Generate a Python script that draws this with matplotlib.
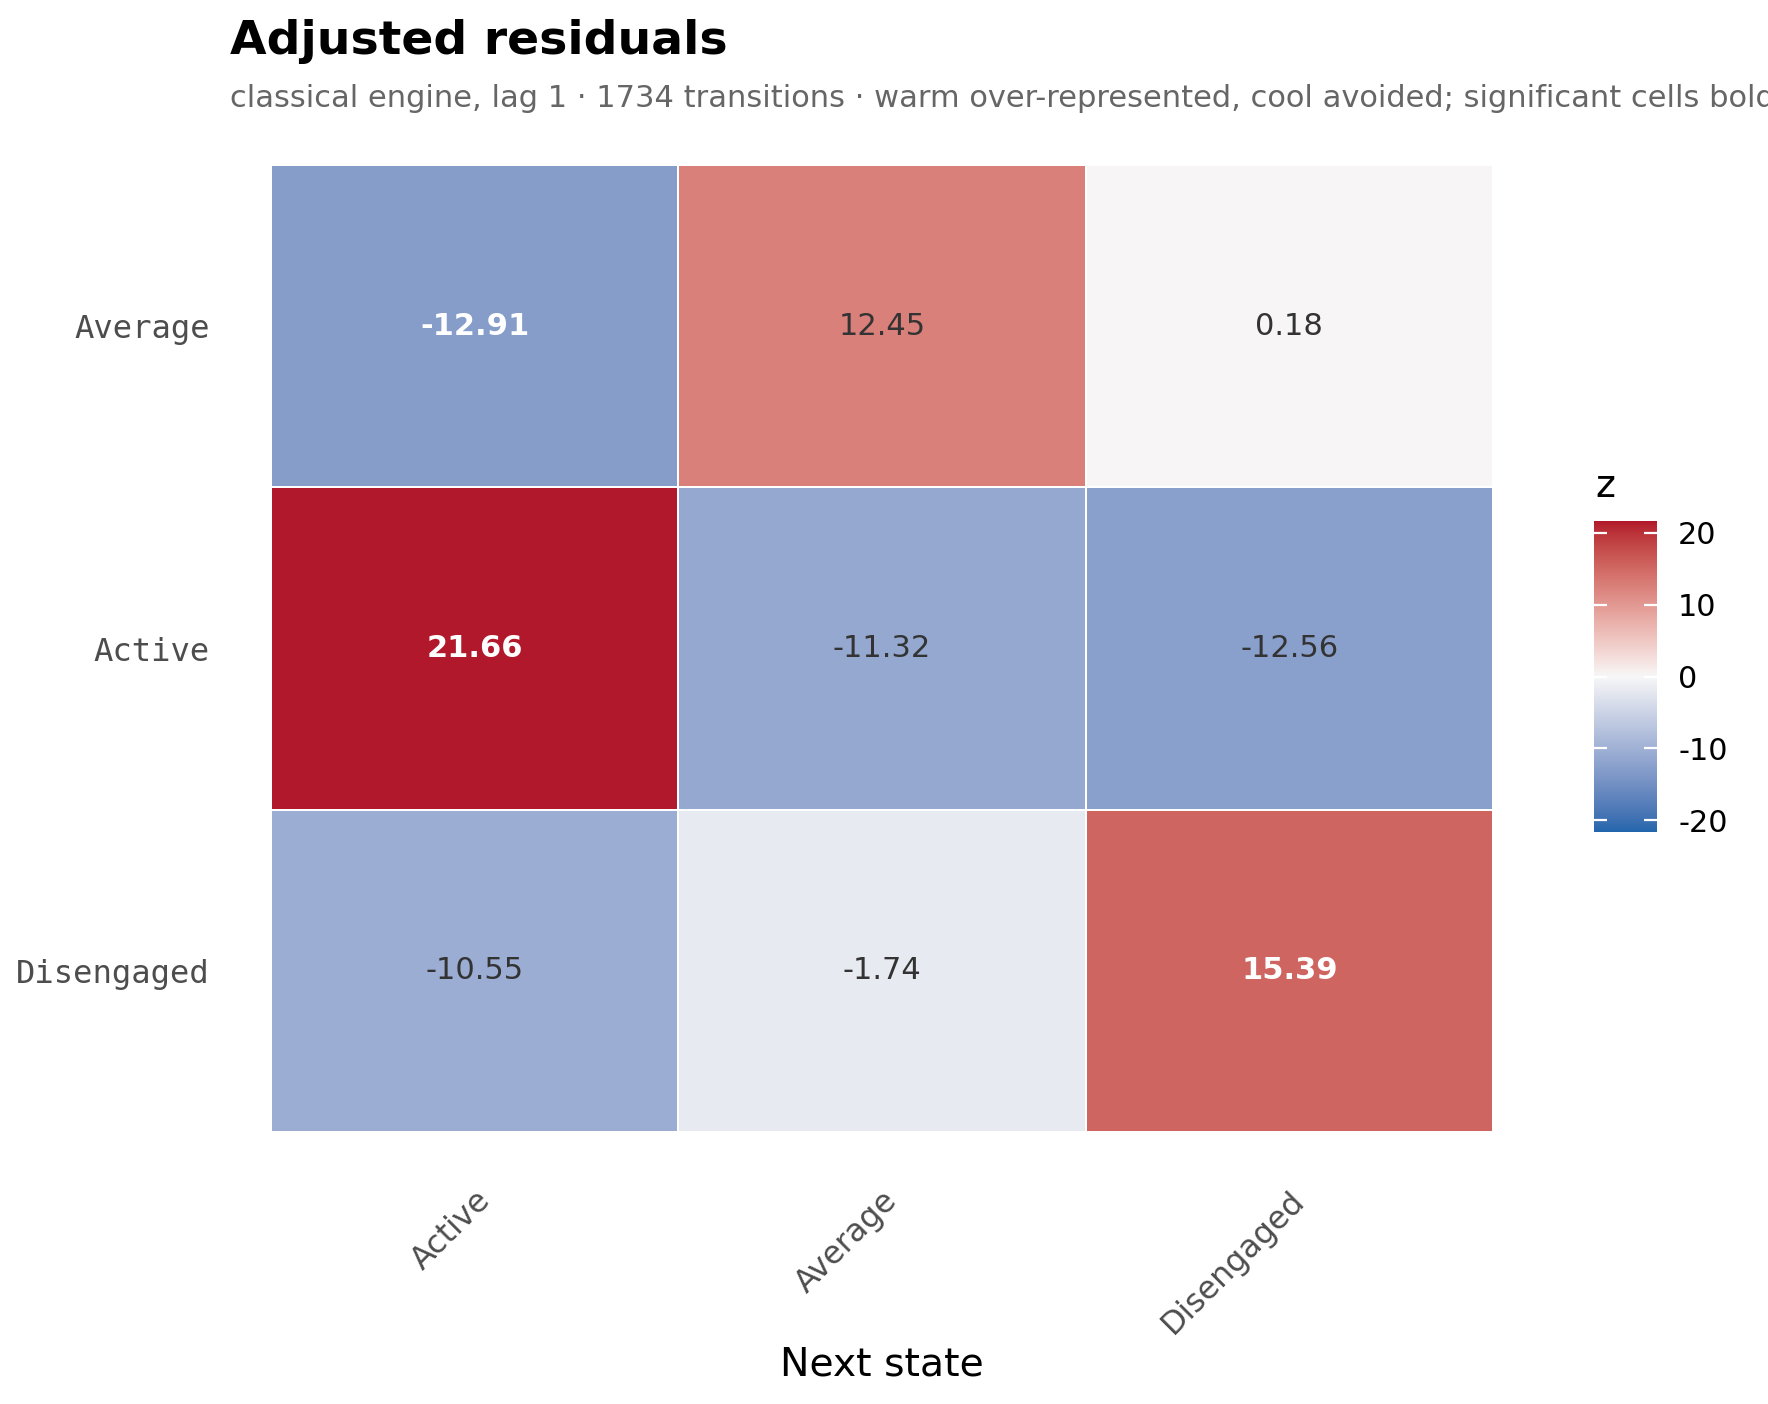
import numpy as np
import matplotlib
matplotlib.use("Agg")
import matplotlib.pyplot as plt
from matplotlib.colors import ListedColormap, Normalize

# ---- data ----
row_labels = ["Average", "Active", "Disengaged"]
col_labels = ["Active", "Average", "Disengaged"]
z_values = [
    [-12.91, 12.45, 0.18],
    [21.66, -11.32, -12.56],
    [-10.55, -1.74, 15.39],
]
significant = [
    [True, False, False],
    [True, False, False],
    [False, False, True],
]
cbar_ticks = [-20, -10, 0, 10, 20]

title = "Adjusted residuals"
subtitle = ("classical engine, lag 1 \u00b7 1734 transitions \u00b7 warm over-represented, "
            "cool avoided; significant cells bold")


# ---- Lab-interpolated diverging palette (low / mid / high) ----
def _srgb_to_lab(rgb):
    rgb = np.asarray(rgb, float)
    lin = np.where(rgb <= 0.04045, rgb / 12.92, ((rgb + 0.055) / 1.055) ** 2.4)
    M = np.array([[0.4124564, 0.3575761, 0.1804375],
                  [0.2126729, 0.7151522, 0.0721750],
                  [0.0193339, 0.1191920, 0.9503041]])
    xyz = lin @ M.T
    white = np.array([0.95047, 1.0, 1.08883])
    t = xyz / white
    f = np.where(t > (6 / 29) ** 3, np.cbrt(t), t / (3 * (6 / 29) ** 2) + 4 / 29)
    L = 116 * f[..., 1] - 16
    a = 500 * (f[..., 0] - f[..., 1])
    b = 200 * (f[..., 1] - f[..., 2])
    return np.stack([L, a, b], -1)


def _lab_to_srgb(lab):
    lab = np.asarray(lab, float)
    fy = (lab[..., 0] + 16) / 116
    fx = fy + lab[..., 1] / 500
    fz = fy - lab[..., 2] / 200
    f = np.stack([fx, fy, fz], -1)
    t = np.where(f > 6 / 29, f ** 3, 3 * (6 / 29) ** 2 * (f - 4 / 29))
    white = np.array([0.95047, 1.0, 1.08883])
    xyz = t * white
    Minv = np.array([[3.2404542, -1.5371385, -0.4985314],
                     [-0.9692660, 1.8760108, 0.0415560],
                     [0.0556434, -0.2040259, 1.0572252]])
    lin = xyz @ Minv.T
    lin = np.clip(lin, 0, 1)
    rgb = np.where(lin <= 0.0031308, 12.92 * lin, 1.055 * lin ** (1 / 2.4) - 0.055)
    return np.clip(rgb, 0, 1)


def _hex(h):
    h = h.lstrip("#")
    return [int(h[i:i + 2], 16) / 255 for i in (0, 2, 4)]


low, mid, high = _srgb_to_lab(_hex("#2166AC")), _srgb_to_lab(_hex("#F7F7F7")), _srgb_to_lab(_hex("#B2182B"))
tt = np.linspace(0, 1, 512)
labs = []
for t in tt:
    if t < 0.5:
        f = t / 0.5
        labs.append(low * (1 - f) + mid * f)
    else:
        f = (t - 0.5) / 0.5
        labs.append(mid * (1 - f) + high * f)
cmap = ListedColormap(_lab_to_srgb(np.array(labs)))

Z = np.array(z_values)
lim = np.abs(Z).max()
norm = Normalize(-lim, lim)

# ---- figure ----
fig = plt.figure(figsize=(8.84, 7.02), dpi=200)
ax = fig.add_axes([0.1533, 0.1937, 0.8445 - 0.1533, 0.8825 - 0.1937])

mesh = ax.pcolormesh(np.arange(len(col_labels) + 1), np.arange(len(row_labels) + 1), Z,
                     cmap=cmap, norm=norm, edgecolors="white", linewidth=0.7)
ax.set_xlim(0, len(col_labels))
ax.set_ylim(len(row_labels), 0)

for i in range(len(row_labels)):
    for j in range(len(col_labels)):
        sig = significant[i][j]
        ax.text(j + 0.5, i + 0.5, f"{Z[i, j]:.2f}", ha="center", va="center",
                fontsize=11.0, color="white" if sig else "#333333",
                fontweight="bold" if sig else "normal", family="DejaVu Sans")

ax.set_xticks(np.arange(len(col_labels)) + 0.5)
ax.set_xticklabels(col_labels, rotation=45, ha="right", rotation_mode="anchor",
                   fontsize=11.4, color="#4d4d4d")
ax.set_yticks(np.arange(len(row_labels)) + 0.5)
ax.set_yticklabels(row_labels, fontsize=11.6, color="#4d4d4d", family="DejaVu Sans Mono")
ax.tick_params(axis="both", length=0)
ax.tick_params(axis="y", pad=22)
ax.tick_params(axis="x", pad=19)
for s in ax.spines.values():
    s.set_visible(False)

fig.text(0.4989, 1 - 1375 / 1404, "Next state", ha="center", va="baseline", fontsize=14.2, color="black")

# colorbar
cax = fig.add_axes([1594 / 1768, 1 - 832 / 1404, 63 / 1768, 311 / 1404])
cb = fig.colorbar(mesh, cax=cax, ticks=cbar_ticks)
cb.outline.set_visible(False)
cax.tick_params(left=True, right=True, direction="in", color="white", length=4.6, width=0.8,
                labelsize=10.9, pad=7.6, labelcolor="black")
cax.set_yticklabels([str(t) for t in cbar_ticks])
fig.text(1595 / 1768, 1 - 497 / 1404, "z", ha="left", va="baseline", fontsize=13.6, color="black")

fig.text(230 / 1768, 1 - 54 / 1404, title, ha="left", va="baseline", fontsize=17.0,
         fontweight="bold", color="black")
fig.text(230 / 1768, 1 - 107 / 1404, subtitle, ha="left", va="baseline", fontsize=11.0,
         color="#666666")

fig.savefig("out.png", dpi=200, facecolor="white")
